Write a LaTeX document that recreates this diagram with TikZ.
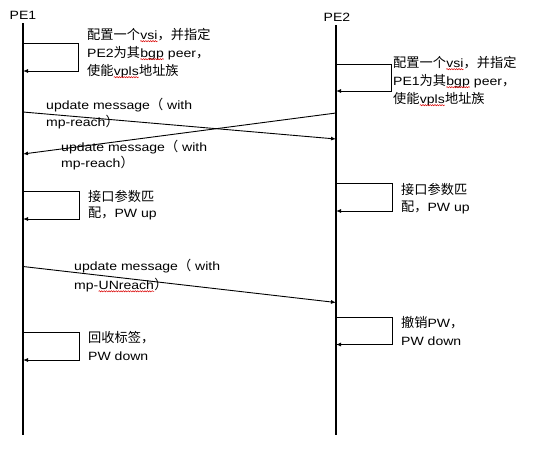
\documentclass[tikz,border=0pt]{standalone}
\usepackage{fontspec}
\setmainfont{Liberation Sans}[FakeStretch=1.17]
\newfontfamily\cjk{Noto Sans CJK SC}[Scale=1.1]
\usetikzlibrary{arrows.meta,decorations.pathmorphing}
\newcommand\zh[1]{{\cjk #1}}
\newcommand\spell[1]{\tikz[baseline=(w.base)]{\node[inner sep=0pt,outer sep=0pt] (w) {#1};\draw[red!85!black,line width=0.5pt,decorate,decoration={snake,amplitude=0.6pt,segment length=2.4pt}] ([yshift=-1.8pt]w.base west) -- ([yshift=-1.8pt]w.base east);}}
\begin{document}
\begin{tikzpicture}[x=1pt,y=-1pt,
  life/.style={line width=1.2pt},
  msg/.style={line width=0.9pt,-{Latex[length=5pt,width=4pt]}},
  lbl/.style={anchor=north west,inner sep=0pt,align=left,font=\fontsize{12}{18}\selectfont},
  head/.style={inner sep=0pt,font=\fontsize{12}{14}\selectfont}]
\useasboundingbox (0,0) rectangle (538,451);
% lifelines
\node[head] (pe1) at (23,15) {PE1};
\node[head] (pe2) at (337,17) {PE2};
\coordinate (pe1end) at (23,435);
\coordinate (pe2end) at (336,435);
\draw[life] (23,23) coordinate (pe1top) -- (pe1end);
\draw[life] (336,25) coordinate (pe2top) -- (pe2end);
% self message 1 PE1
\coordinate (a1) at (23,43);
\coordinate (a2) at (23,71);
\draw[msg] (a1) -- ++(55,0) |- (a2);
\node[lbl] (t1) at (87,28) {\zh{配置一个}\spell{vsi}\zh{，并指定}\\PE2\zh{为其}\spell{bgp} peer\zh{，}\\\zh{使能}\spell{vpls}\zh{地址族}};
% self message 1 PE2
\coordinate (b1) at (336,64);
\coordinate (b2) at (336,91);
\draw[msg] (b1) -- ++(55,0) |- (b2);
\node[lbl] (t2) at (393,56) {\zh{配置一个}\spell{vsi}\zh{，并指定}\\PE1\zh{为其}\spell{bgp} peer\zh{，}\\\zh{使能}\spell{vpls}\zh{地址族}};
% cross messages
\coordinate (c1) at (23,112);
\coordinate (c2) at (336,139);
\draw[msg] (c1) -- (c2);
\node[lbl,font=\fontsize{12}{17}\selectfont] (t3) at (46,98) {update message\zh{（} with\\mp-reach\zh{）}};
\coordinate (d1) at (336,113);
\coordinate (d2) at (23,154);
\draw[msg] (d1) -- (d2);
\node[lbl,font=\fontsize{12}{16}\selectfont] (t4) at (61,140) {update message\zh{（} with\\mp-reach\zh{）}};
% self message 2 PE1
\coordinate (e1) at (23,191);
\coordinate (e2) at (23,219);
\draw[msg] (e1) -- ++(56,0) |- (e2);
\node[lbl,font=\fontsize{12}{16}\selectfont] (t5) at (88,190) {\zh{接口参数匹}\\\zh{配，}PW up};
% self message 2 PE2
\coordinate (f1) at (336,183);
\coordinate (f2) at (336,211);
\draw[msg] (f1) -- ++(56,0) |- (f2);
\node[lbl,font=\fontsize{12}{17}\selectfont] (t6) at (401,183) {\zh{接口参数匹}\\\zh{配，}PW up};
% unreach
\coordinate (g1) at (23,266.5);
\coordinate (g2) at (336,302.5);
\draw[msg] (g1) -- (g2);
\node[lbl,font=\fontsize{12}{19}\selectfont] (t7) at (74,259) {update message\zh{（} with\\mp-\spell{UNreach}\zh{）}};
% self message 3 PE2
\coordinate (h1) at (336,317);
\coordinate (h2) at (336,344.5);
\draw[msg] (h1) -- ++(56,0) |- (h2);
\node[lbl] (t8) at (401,316) {\zh{撤销}PW\zh{，}\\PW down};
% self message 3 PE1
\coordinate (k1) at (23,332);
\coordinate (k2) at (23,360);
\draw[msg] (k1) -- ++(56,0) |- (k2);
\node[lbl] (t9) at (88,331) {\zh{回收标签，}\\PW down};
\end{tikzpicture}
\end{document}
